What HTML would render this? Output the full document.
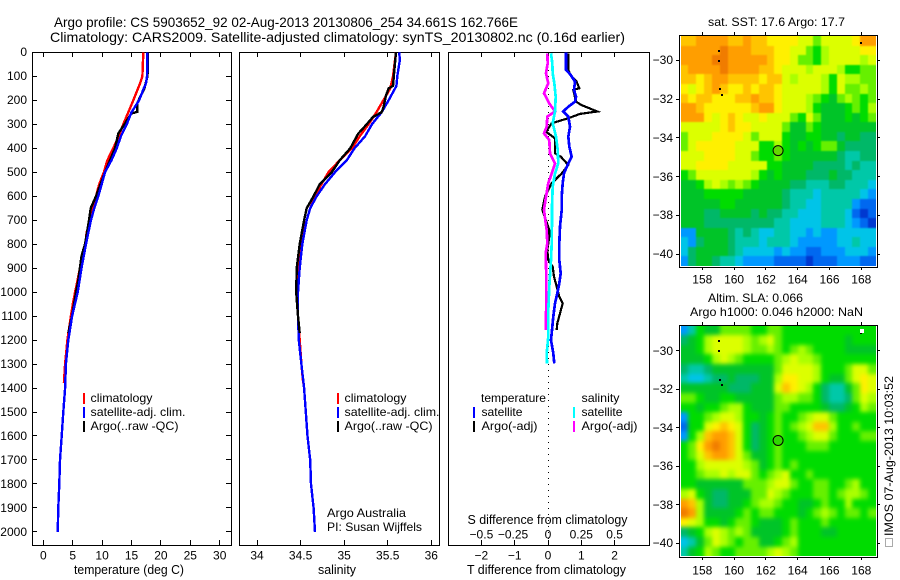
<!DOCTYPE html>
<html lang="en">
<head>
<meta charset="utf-8">
<title>Argo profile 5903652_92</title>
<style>
html,body{margin:0;padding:0;background:#fff;}
svg{display:block;}
text{font-family:"Liberation Sans",sans-serif;font-size:12px;fill:#000;}
.t{font-size:14px;}
.l{font-size:13px;}
</style>
</head>
<body>
<svg id="chart" xmlns="http://www.w3.org/2000/svg" width="900" height="580" viewBox="0 0 900 580">
<defs>
<filter id="soft1" x="-10%" y="-10%" width="120%" height="120%" color-interpolation-filters="sRGB"><feGaussianBlur stdDeviation="0.9"/></filter>
<filter id="soft2" x="-10%" y="-10%" width="120%" height="120%" color-interpolation-filters="sRGB"><feGaussianBlur stdDeviation="2"/></filter>
<clipPath id="clip1"><rect x="681" y="36" width="195" height="230"/></clipPath>
<clipPath id="clip2"><rect x="681" y="326" width="195" height="230"/></clipPath>
</defs>
<rect x="0" y="0" width="900" height="580" fill="#fff"/>
<g clip-path="url(#clip1)"><g id="heat1" filter="url(#soft1)"></g></g>
<g clip-path="url(#clip2)"><g id="heat2" filter="url(#soft2)"></g></g>
<g id="axes" shape-rendering="crispEdges"></g>
<g id="marks"></g>
<g id="labels"></g>

<text class="t" x="54" y="27" textLength="464" lengthAdjust="spacingAndGlyphs">Argo profile: CS 5903652_92 02-Aug-2013 20130806_254 34.661S 162.766E</text>
<text class="t" x="50" y="42" textLength="575" lengthAdjust="spacingAndGlyphs">Climatology: CARS2009. Satellite-adjusted climatology: synTS_20130802.nc (0.16d earlier)</text>

<text class="l" x="74" y="574" textLength="110" lengthAdjust="spacingAndGlyphs">temperature (deg C)</text>
<text class="l" x="318" y="574" textLength="38" lengthAdjust="spacingAndGlyphs">salinity</text>
<text class="l" x="467" y="574" textLength="159" lengthAdjust="spacingAndGlyphs">T difference from climatology</text>
<text class="l" x="467.5" y="524" textLength="160" lengthAdjust="spacingAndGlyphs">S difference from climatology</text>

<g shape-rendering="crispEdges">
<rect x="83" y="393" width="2" height="11" fill="#f00"/>
<rect x="83" y="407" width="2" height="11" fill="#00f"/>
<rect x="83" y="421" width="2" height="11" fill="#000"/>
<rect x="337" y="393" width="2" height="11" fill="#f00"/>
<rect x="337" y="407" width="2" height="11" fill="#00f"/>
<rect x="337" y="421" width="2" height="11" fill="#000"/>
<rect x="473" y="407" width="2" height="11" fill="#00f"/>
<rect x="473" y="421" width="2" height="11" fill="#000"/>
<rect x="573" y="407" width="2" height="11" fill="#0ff"/>
<rect x="573" y="421" width="2" height="11" fill="#f0f"/>
</g>
<text x="90.5" y="402" textLength="62" lengthAdjust="spacingAndGlyphs">climatology</text>
<text x="90.5" y="416" textLength="95" lengthAdjust="spacingAndGlyphs">satellite-adj. clim.</text>
<text x="90.5" y="430" textLength="88" lengthAdjust="spacingAndGlyphs">Argo(..raw -QC)</text>
<text x="344.5" y="402" textLength="62" lengthAdjust="spacingAndGlyphs">climatology</text>
<text x="344.5" y="416" textLength="95" lengthAdjust="spacingAndGlyphs">satellite-adj. clim.</text>
<text x="344.5" y="430" textLength="88" lengthAdjust="spacingAndGlyphs">Argo(..raw -QC)</text>
<text x="327" y="517" textLength="79" lengthAdjust="spacingAndGlyphs">Argo Australia</text>
<text x="327" y="531" textLength="95" lengthAdjust="spacingAndGlyphs">PI: Susan Wijffels</text>

<text x="481" y="402" textLength="65" lengthAdjust="spacingAndGlyphs">temperature</text>
<text x="481.5" y="416" textLength="41" lengthAdjust="spacingAndGlyphs">satellite</text>
<text x="481.5" y="430" textLength="56" lengthAdjust="spacingAndGlyphs">Argo(-adj)</text>
<text x="581.5" y="402" textLength="38" lengthAdjust="spacingAndGlyphs">salinity</text>
<text x="581.5" y="416" textLength="41" lengthAdjust="spacingAndGlyphs">satellite</text>
<text x="581.5" y="430" textLength="56" lengthAdjust="spacingAndGlyphs">Argo(-adj)</text>

<text x="708" y="26" textLength="137" lengthAdjust="spacingAndGlyphs">sat. SST: 17.6 Argo: 17.7</text>
<text x="708" y="302" textLength="95" lengthAdjust="spacingAndGlyphs">Altim. SLA: 0.066</text>
<text x="690" y="316" textLength="173" lengthAdjust="spacingAndGlyphs">Argo h1000: 0.046 h2000: NaN</text>
<text transform="translate(893,536) rotate(-90)" textLength="160" lengthAdjust="spacingAndGlyphs">IMOS 07-Aug-2013 10:03:52</text>
<rect x="885.5" y="538.5" width="7" height="8" fill="none" stroke="#555" stroke-width="1" stroke-dasharray="1 1" shape-rendering="crispEdges"/>
</svg>

<script>
// ---- depth axis ----
const depthTicks = [0,100,200,300,400,500,600,700,800,900,1000,1100,1200,1300,1400,1500,1600,1700,1800,1900,2000];
const tempTicks = [0,5,10,15,20,25,30];
const salTicks = [34,34.5,35,35.5,36];
const tDiffTicks = [-2,-1,0,1,2];
const sDiffTicks = [-0.5,-0.25,0,0.25,0.5];
const lonTicks = [158,160,162,164,166,168];
const latTicks = [-30,-32,-34,-36,-38,-40];

// ---- temperature profiles ----
const climTDepth = [0,100,130,200,250,300,350,400,450,500,550,600,650,700,750,800,900,1000,1038,1100,1200,1300,1380];
const climTValue = [17.0,16.85,16.45,15.3,14.45,13.6,12.8,11.9,10.9,10.3,9.5,8.96,8.5,8.06,7.38,7.15,6.24,5.4,5.1,4.7,4.1,3.7,3.5];
const satTDepth = [0,100,130,150,200,250,300,350,400,450,500,550,600,650,700,800,900,1000,1100,1200,1300,1400,1500,1600,1700,1800,1900,2000];
const satTValue = [17.7,17.64,17.47,17.1,16.3,15.0,14.2,13.2,12.5,11.6,10.5,9.93,9.35,8.67,8.1,7.26,6.5,5.85,4.9,4.25,3.85,3.7,3.4,3.13,2.84,2.72,2.55,2.45];
const argoTDepth = [0,80,100,150,200,213,248,255,303,338,400,450,500,600,650,700,800,850,950,1000,1100,1170];
const argoTValue = [17.75,17.75,17.7,17.2,16.2,16.0,16.0,15.0,13.7,12.75,12.2,11.35,10.5,8.96,8.06,7.77,7.1,6.5,5.95,5.56,4.88,4.25];

// ---- salinity profiles ----
const climSDepth = [0,100,150,200,250,300,350,400,450,500,550,600,650,700,800,900,1000,1100,1200,1300,1380];
const climSValue = [35.595,35.56,35.53,35.45,35.37,35.28,35.18,35.09,34.95,34.82,34.74,34.665,34.61,34.57,34.505,34.48,34.46,34.47,34.49,34.51,34.53];
const satSDepth = [0,30,100,140,200,250,300,350,400,450,500,550,600,650,700,800,900,1000,1100,1200,1300,1400,1500,1600,1700,1800,1900,2000];
const satSValue = [35.63,35.64,35.61,35.6,35.51,35.43,35.32,35.24,35.12,35.03,34.895,34.78,34.685,34.61,34.57,34.52,34.49,34.47,34.47,34.48,34.51,34.54,34.56,34.58,34.61,34.62,34.65,34.665];
const argoSDepth = [0,100,140,150,180,230,250,270,300,340,400,450,500,550,600,650,700,800,900,1000,1100,1170];
const argoSValue = [35.595,35.57,35.56,35.51,35.48,35.45,35.43,35.33,35.26,35.16,35.07,34.95,34.857,34.72,34.65,34.57,34.54,34.49,34.455,34.45,34.47,34.49];

// ---- difference profiles ----
const diffSatTDepth = [0,73,94,122,157,185,206,227,247,268,310,352,393,435,463,505,546,602,658,727,797,866,922,963,1005,1047,1102,1158,1200,1255,1297];
const diffSatTValue = [0.54,0.54,0.68,0.81,0.78,0.84,0.81,0.61,0.46,0.61,0.66,0.61,0.64,0.71,0.61,0.48,0.44,0.41,0.41,0.36,0.34,0.34,0.38,0.34,0.28,0.21,0.16,0.12,0.09,0.16,0.19];
const diffArgoTDepth = [4,74,95,122,150,157,206,220,247,257,275,296,331,359,421,435,470,505,546,602,657,741,769,824,866,894,936,977,1019,1047,1089,1130,1158];
const diffArgoTValue = [0.61,0.61,0.68,0.86,0.94,0.76,0.84,1.01,1.48,0.96,0.61,0.11,-0.06,0.21,0.21,0.38,0.61,0.41,0.11,-0.09,-0.17,0.04,0.04,-0.02,0.01,0.14,0.18,0.26,0.34,0.44,0.36,0.28,0.26];
const diffSatSDepth = [4,46,88,129,185,247,296,352,407,463,505,560,643,699,797,866,977,1075,1186,1255,1297];
const diffSatSValue = [0.0225,0.0325,0.035,0.0475,0.0575,0.0525,0.035,0.06,0.0725,0.0775,0.0525,0.035,0.03,0.03,0.0275,0.0225,0.01,0.0025,0.0025,-0.01,-0.0075];
const diffArgoSDepth = [4,46,88,129,171,213,247,268,310,338,366,421,463,505,546,602,657,713,741,797,838,936,1158];
const diffArgoSValue = [-0.005,-0.0025,-0.015,0.0025,-0.03,0.01,0.0525,-0.005,-0.01,-0.03,0.01,0.015,0.0525,0.0275,0.0025,-0.015,-0.03,-0.0175,-0.01,-0.005,-0.0175,-0.0125,-0.015];

// ---- map values: colour-scale level per cell, north to south ----
const colourScale = ["#0038d0","#0068f0","#0098ff","#00c4e8","#00c8a8","#00b868","#00c428","#00dc00","#66f000","#aaff00","#dcff00","#fff000","#ffc400","#ff9e00","#f07c00"];
const sstLevels = [
[12,12,13,13,13,13,12,12,13,12,12,11,11,11,11,10,10,8,10,10,10,10,11,13,13],
[13,13,13,13,13,14,13,13,13,12,12,12,11,11,10,10,8,7,9,10,10,10,10,11,11],
[13,13,13,13,14,14,13,13,13,13,13,12,11,11,10,8,8,7,9,10,10,10,10,9,10],
[12,13,13,13,13,14,13,13,13,13,12,12,11,10,10,10,9,10,10,10,9,7,7,8,8],
[12,12,11,12,13,13,12,12,12,12,11,12,12,10,9,10,10,10,9,7,10,9,9,8,8],
[11,10,11,12,13,12,11,11,12,11,12,12,11,10,10,10,10,10,9,7,10,8,8,9,8],
[12,11,12,12,11,11,11,12,12,13,12,12,11,10,10,10,9,8,7,6,8,9,8,7,8],
[13,13,12,11,11,11,11,11,11,12,13,13,11,10,10,10,9,7,6,6,6,7,8,7,9],
[13,13,13,11,10,11,12,11,10,10,11,10,10,10,8,7,10,8,6,6,6,7,6,7,8],
[10,10,10,10,10,11,12,11,11,10,10,10,10,8,6,6,8,7,6,6,6,6,6,6,6],
[8,10,10,10,11,11,11,11,10,8,10,10,10,7,6,6,7,7,6,6,5,6,6,5,5],
[8,10,11,11,11,11,11,10,10,10,7,7,9,7,6,7,6,7,8,8,6,5,5,5,5],
[10,10,10,11,11,11,11,10,10,8,7,7,8,7,6,6,6,6,6,6,5,4,4,5,5],
[10,10,11,11,11,11,10,10,10,10,10,7,7,6,6,6,6,5,5,5,5,4,5,4,4],
[7,8,10,10,10,10,10,10,10,9,7,6,7,6,6,6,5,5,5,6,5,5,4,4,4],
[6,6,7,9,10,9,8,9,8,7,6,6,6,6,5,5,4,4,4,5,5,4,4,4,3],
[6,6,6,7,7,7,7,7,6,6,6,6,6,5,4,4,4,3,4,4,4,4,4,3,2],
[6,6,6,6,6,7,7,6,6,6,6,6,6,5,4,4,3,3,4,4,4,4,2,1,1],
[6,6,6,5,5,6,6,6,6,5,6,5,5,4,4,3,3,3,4,4,4,3,1,0,1],
[6,6,6,5,5,5,5,5,5,5,5,5,4,4,3,3,3,3,4,4,4,3,2,1,0],
[2,2,6,6,6,6,5,4,5,4,3,3,4,4,3,3,2,3,2,2,3,3,3,3,3],
[3,2,5,6,6,6,5,4,4,4,3,4,4,4,3,2,2,2,2,2,3,3,4,3,3],
[3,5,6,6,6,6,5,4,3,3,3,3,2,3,2,2,1,1,2,2,2,3,3,3,2],
[2,5,6,6,5,4,4,3,2,2,2,2,1,1,1,1,0,1,1,1,2,2,2,1,1]
];
const slaLevels = [
[2,4,7,6,6,8,8,8,8,7,7,8,8,7,7,7,7,7,7,7,7,7,7,7,7],
[5,6,7,9,10,10,10,10,9,8,9,10,8,7,7,7,7,7,7,7,7,6,7,7,7],
[6,6,7,9,10,10,10,10,9,8,8,9,8,7,8,9,8,7,7,7,7,6,6,6,6],
[6,6,6,7,9,10,9,8,7,7,7,7,8,9,10,9,9,8,7,7,7,7,7,7,7],
[5,4,4,5,6,6,6,6,6,6,6,6,8,10,10,10,10,9,7,7,7,8,10,10,8],
[4,3,3,4,5,5,6,5,5,5,6,6,9,11,11,10,10,9,7,6,6,8,10,11,10],
[6,6,6,6,6,6,5,5,5,6,6,6,10,12,11,10,9,7,5,4,4,6,8,11,10],
[8,8,7,6,6,7,7,6,6,6,6,6,8,9,9,8,8,7,5,4,4,5,8,10,9],
[7,7,6,7,7,8,9,9,7,6,6,6,8,8,7,7,7,7,6,5,5,6,7,9,8],
[2,7,7,8,9,10,10,9,7,7,6,7,8,7,7,8,9,10,10,8,7,7,7,7,7],
[1,7,7,10,11,12,11,10,7,5,6,7,8,7,8,9,10,12,12,9,7,7,8,7,7],
[2,7,9,12,13,13,12,10,7,5,6,7,8,7,7,8,9,10,10,8,7,7,7,8,8],
[7,8,11,13,14,13,12,10,7,5,6,7,8,7,7,7,8,8,8,7,7,7,7,7,7],
[7,8,10,12,13,13,12,10,8,6,6,7,8,7,7,7,7,7,7,7,7,7,7,7,7],
[7,7,9,10,10,10,10,10,9,8,6,7,8,7,8,7,7,7,7,7,7,7,7,7,7],
[7,7,8,9,9,10,9,10,10,8,7,8,9,10,7,7,8,7,7,7,7,7,7,7,7],
[7,7,6,6,6,6,6,6,8,8,8,9,10,10,8,7,7,8,8,7,7,8,9,7,7],
[9,10,7,6,5,5,6,6,6,8,8,10,9,8,7,7,7,8,8,7,8,9,9,8,7],
[13,12,9,6,5,5,6,6,7,8,9,9,8,7,7,6,6,7,8,7,7,9,7,7,7],
[14,13,9,6,6,6,6,7,8,7,8,8,7,7,7,6,7,8,9,8,7,8,8,7,8],
[11,10,9,7,7,6,7,8,8,7,6,6,6,7,8,7,7,7,8,7,7,7,7,7,7],
[5,6,7,9,10,9,8,9,8,6,6,6,6,7,8,7,7,7,6,6,7,7,7,7,7],
[3,4,6,8,10,9,8,7,8,8,6,6,7,8,9,7,7,7,7,7,7,7,7,7,7],
[4,6,7,9,8,7,7,8,8,8,8,9,10,9,8,7,7,7,7,7,7,7,7,7,7]
];
const islandLon = [159.07,159.05,159.1,159.25,167.95];
const islandLat = [-29.5,-30.04,-31.5,-31.8,-29.1];
const argoLon = 162.766;
const argoLat = -34.661;

// ---- axis functions ----
function yDepth(d){return 52.3+0.2398*d;}
function xTemp(v){return 43.3+5.88*v;}
function xSal(v){return 257+87.15*(v-34);}
function xTDiff(v){return 548+33.3*v;}
function xSDiff(v){return 548+133.2*v;}
function xLon(v){return 702.3+15.9*(v-158);}
function yLat1(v){return 60.3+19.37*(-30-v);}
function yLat2(v){return 350.7+19.26*(-30-v);}

const NS = "http://www.w3.org/2000/svg";
const axesG = document.getElementById("axes");
const marksG = document.getElementById("marks");
const labelsG = document.getElementById("labels");

function make(tag,parent,attrs){
  const el = document.createElementNS(NS,tag);
  for(const k in attrs){el.setAttribute(k,attrs[k]);}
  parent.appendChild(el);
  return el;
}
function snap(v){return Math.round(v-0.5)+0.5;}

function drawFrame(x1,y1,x2,y2,name){
  const el = make("rect",axesG,{x:snap(x1),y:snap(y1),width:Math.round(x2-x1),height:Math.round(y2-y1),fill:"none",stroke:"#000","stroke-width":1});
  
  
}
function drawTick(x1,y1,x2,y2){
  const el = make("line",axesG,{x1:x1,y1:y1,x2:x2,y2:y2,stroke:"#000","stroke-width":1});
  
  
}
function drawLabel(x,y,str,anchor){
  const el = make("text",labelsG,{x:x,y:y,"text-anchor":anchor});
  el.textContent = str;
  
  
}
function fmt(v){return (v<0?"\u2212":"")+Math.abs(v);}

// ---- profile panels ----
const panelTop = 52, panelBot = 545;
drawFrame(32,panelTop,231,panelBot,"temperature-panel-frame");
drawFrame(239,panelTop,439,panelBot,"salinity-panel-frame");
drawFrame(448,panelTop,649,panelBot,"difference-panel-frame");

depthTicks.forEach(function(d){
  const y = snap(yDepth(d));
  drawTick(32,y,37,y);
  drawTick(226,y,231,y);
  drawLabel(27,Math.round(yDepth(d))+4,String(d),"end");
});
tempTicks.forEach(function(v){
  const x = snap(xTemp(v));
  drawTick(x,panelTop,x,panelTop+5);
  drawTick(x,panelBot-5,x,panelBot);
  drawLabel(xTemp(v),559.5,String(v),"middle");
});
salTicks.forEach(function(v){
  const x = snap(xSal(v));
  drawTick(x,panelTop,x,panelTop+5);
  drawTick(x,panelBot-5,x,panelBot);
  drawLabel(xSal(v),559.5,String(v),"middle");
});
tDiffTicks.forEach(function(v){
  const x = snap(xTDiff(v));
  drawTick(x,panelTop,x,panelTop+5);
  drawTick(x,panelBot-5,x,panelBot);
  drawLabel(xTDiff(v),559.5,fmt(v),"middle");
});
sDiffTicks.forEach(function(v){
  drawLabel(v===-0.25?513:xSDiff(v),538.5,fmt(v),"middle");
});

const zeroLine = make("line",axesG,{x1:548.5,y1:panelTop,x2:548.5,y2:panelBot,stroke:"#000","stroke-width":1,"stroke-dasharray":"1 5"});



function drawProfile(depths,values,xFn,colour,name,width){
  const pts = depths.map(function(d,i){return xFn(values[i]).toFixed(1)+","+yDepth(d).toFixed(1);}).join(" ");
  const el = make("polyline",marksG,{points:pts,fill:"none",stroke:colour,"stroke-width":width,"shape-rendering":"crispEdges","stroke-linejoin":"miter"});
  
  
}
drawProfile(climTDepth,climTValue,xTemp,"#f00","temperature-climatology-line",2.4);
drawProfile(argoTDepth,argoTValue,xTemp,"#000","temperature-argo-line",2.4);
drawProfile(satTDepth,satTValue,xTemp,"#00f","temperature-satellite-line",2.4);
drawProfile(climSDepth,climSValue,xSal,"#f00","salinity-climatology-line",2.4);
drawProfile(satSDepth,satSValue,xSal,"#00f","salinity-satellite-line",2.4);
drawProfile(argoSDepth,argoSValue,xSal,"#000","salinity-argo-line",2.4);
drawProfile(diffArgoTDepth,diffArgoTValue,xTDiff,"#000","t-difference-argo-line",2.2);
drawProfile(diffSatTDepth,diffSatTValue,xTDiff,"#00f","t-difference-satellite-line",2.7);
drawProfile(diffArgoSDepth,diffArgoSValue,xSDiff,"#f0f","s-difference-argo-line",2.7);
drawProfile(diffSatSDepth,diffSatSValue,xSDiff,"#0ff","s-difference-satellite-line",2.7);

// ---- maps ----
function drawMap(groupId,levels,yLat,westLon,eastLon,northLat,southLat,frameTop,frameBot,prefix,circleFill){
  const g = document.getElementById(groupId);
  const rows = levels.length, cols = levels[0].length;
  const dLon = (eastLon-westLon)/cols, dLat = (northLat-southLat)/rows;
  const bleed = 10;
  levels.forEach(function(row,r){
    row.forEach(function(v,c){
      const x0 = Math.round(xLon(westLon+c*dLon))-(c===0?bleed:0);
      const x1 = Math.round(xLon(westLon+(c+1)*dLon))+(c===cols-1?bleed:0);
      const y0 = Math.round(yLat(northLat-r*dLat))-(r===0?bleed:0);
      const y1 = Math.round(yLat(northLat-(r+1)*dLat))+(r===rows-1?bleed:0);
      const cell = make("rect",g,{x:x0,y:y0,width:x1-x0,height:y1-y0,fill:colourScale[Math.max(0,Math.min(colourScale.length-1,Math.round(v)))],"shape-rendering":"crispEdges"});
      
      
    });
  });
  drawFrame(679,frameTop,877,frameBot,prefix+"-map-frame");
  lonTicks.forEach(function(v){
    const x = snap(xLon(v));
    drawTick(x,frameTop-3,x,frameTop);
    drawTick(x,frameBot,x,frameBot+3);
  });
  latTicks.forEach(function(v){
    const y = snap(yLat(v));
    drawTick(676,y,679,y);
    drawTick(877,y,880,y);
    drawLabel(673,Math.round(yLat(v))+4,fmt(v),"end");
  });
  islandLon.forEach(function(lon,i){
    const dot = make("rect",marksG,{x:Math.round(xLon(lon))-1,y:Math.round(yLat(islandLat[i]))-1,width:2,height:2,fill:"#000","shape-rendering":"crispEdges"});
    
    
  });
  const circle = make("circle",marksG,{cx:xLon(argoLon),cy:yLat(argoLat),r:5,fill:circleFill,stroke:"#000","stroke-width":1});
  
  
}
drawMap("heat1",sstLevels,yLat1,156.64,168.92,-28.75,-40.62,35,267,"sst","#66d800");
drawMap("heat2",slaLevels,yLat2,156.64,168.92,-28.7,-40.67,325,557,"sla","#30d800");
lonTicks.forEach(function(v){
  drawLabel(xLon(v),283.5,String(v),"middle");
  drawLabel(xLon(v),574.5,String(v),"middle");
});
const whiteSpeck = make("rect",marksG,{x:860,y:329,width:4,height:4,fill:"#fff","shape-rendering":"crispEdges"});


</script>
</body>
</html>
